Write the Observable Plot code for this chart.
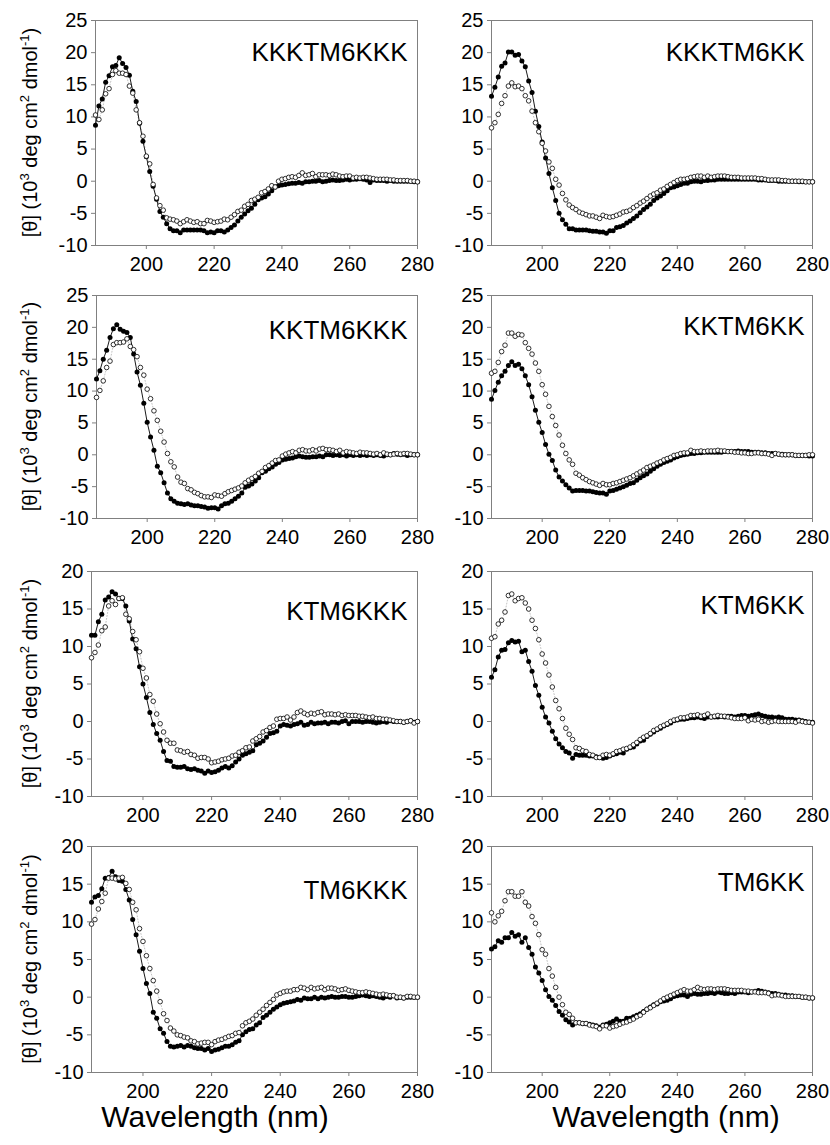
<!DOCTYPE html>
<html><head><meta charset="utf-8">
<script src="https://cdn.jsdelivr.net/npm/d3@7"></script>
<script src="https://cdn.jsdelivr.net/npm/@observablehq/plot@0.6"></script>
<style>
body{margin:0;background:#fff;}
#chart{position:relative;width:830px;height:1145px;background:#fff;overflow:hidden;font-family:"Liberation Sans",Arial,sans-serif;}
#chart svg{position:absolute;overflow:visible;}
</style></head><body><div id="chart"></div>
<script>
// ---------- data ----------
const wavelength = [185,186,187,188,189,190,191,192,193,194,195,196,197,198,199,200,201,202,203,204,205,206,207,208,209,210,211,212,213,214,215,216,217,218,219,220,221,222,223,224,225,226,227,228,229,230,231,232,233,234,235,236,237,238,239,240,241,242,243,244,245,246,247,248,249,250,251,252,253,254,255,256,257,258,259,260,261,262,263,264,265,266,267,268,269,270,271,272,273,274,275,276,277,278,279,280];

const panelNames = ["KKKTM6KKK","KKKTM6KK","KKTM6KKK","KKTM6KK","KTM6KKK","KTM6KK","TM6KKK","TM6KK"];
const xTicks = [200,220,240,260,280];
const yTicksTall = [-10,-5,0,5,10,15,20,25];
const yTicksShort = [-10,-5,0,5,10,15,20];
const xTitle = "Wavelength (nm)";

const kkktm6kkkFilled = [8.7,11.7,12.8,15.4,16.4,17.8,18.0,19.2,18.3,17.7, 16.5,14.0,12.4,9.0,6.2,3.8,1.5,-0.8,-2.8,-4.7, -5.6,-6.6,-7.4,-7.7,-7.7,-8.0,-7.6,-7.6,-7.6,-7.6, -7.6,-7.6,-7.7,-8.0,-7.9,-8.0,-7.7,-7.7,-7.9,-7.6, -7.2,-6.8,-6.2,-5.6,-5.1,-4.6,-4.2,-3.6,-2.9,-2.6, -2.4,-2.0,-1.5,-0.9,-0.7,-0.6,-0.5,-0.4,-0.3,-0.3, -0.2,-0.3,-0.1,-0.1,0.0,0.0,0.1,-0.1,0.0,0.1, 0.2,0.1,0.1,0.2,0.3,0.2,0.3,0.3,0.4,0.3, 0.2,-0.2,0.2,0.1,0.1,0.1,0.0,0.1,0.0,0.0, 0.0,0.0,0.0,0.0,-0.1,-0.1];
const kkktm6kkkOpen = [10.3,9.6,11.1,13.6,14.4,16.6,17.2,16.8,16.8,16.6, 14.8,13.7,11.1,9.1,7.0,3.9,2.7,-0.5,-2.6,-3.8, -4.5,-5.7,-5.9,-6.0,-6.2,-6.6,-6.3,-6.0,-6.2,-6.4, -6.3,-6.6,-6.6,-6.1,-6.2,-6.4,-6.3,-6.2,-5.9,-6.0, -5.6,-5.2,-4.7,-4.5,-3.9,-3.6,-3.0,-2.8,-2.5,-1.8, -1.6,-1.2,-0.7,-0.9,0.0,0.3,0.4,0.6,0.7,0.6, 0.9,1.3,0.9,1.0,1.2,0.7,1.0,1.0,1.0,0.9, 1.1,1.0,0.8,0.7,0.8,0.8,0.5,0.6,0.5,0.6, 0.6,0.5,0.4,0.3,0.3,0.3,0.3,0.2,0.2,0.1, 0.1,0.1,0.1,0.0,0.0,-0.1];

const kkktm6kkFilled = [13.2,14.6,16.2,17.9,18.4,20.1,20.1,19.6,19.7,18.7, 17.8,15.6,13.8,10.9,8.5,6.1,3.6,1.2,-1.0,-3.0, -5.0,-6.0,-6.7,-7.4,-7.4,-7.6,-7.6,-7.6,-7.6,-7.7, -7.8,-7.8,-7.9,-7.9,-8.1,-7.7,-7.7,-7.2,-7.1,-6.9, -6.5,-6.2,-5.8,-5.4,-4.9,-4.4,-4.0,-3.6,-3.0,-2.6, -2.3,-1.9,-1.5,-1.0,-0.9,-0.7,-0.5,-0.3,-0.3,-0.1, 0.0,0.0,-0.1,0.1,0.1,0.2,0.2,0.3,0.3,0.3, 0.3,0.3,0.3,0.3,0.3,0.3,0.3,0.3,0.3,0.2, 0.2,0.2,0.1,0.1,0.1,0.0,0.0,0.0,0.0,0.0, 0.0,-0.1,-0.1,-0.1,-0.1,-0.1];
const kkktm6kkOpen = [8.3,9.1,10.4,12.1,13.3,14.8,15.3,14.7,14.8,14.4, 13.3,12.5,10.9,9.1,7.7,5.9,4.7,3.0,2.0,0.3, -0.6,-1.9,-2.9,-3.7,-4.1,-4.4,-4.8,-5.0,-5.2,-5.4, -5.4,-5.6,-5.8,-5.3,-5.5,-5.6,-5.5,-5.3,-5.1,-4.8, -4.7,-4.5,-4.1,-3.8,-3.4,-3.1,-2.7,-2.3,-2.0,-1.8, -1.4,-1.2,-0.8,-0.5,-0.2,0.1,0.3,0.3,0.4,0.6, 0.7,0.8,0.8,0.6,0.8,0.6,0.7,0.8,0.8,0.8, 0.7,0.6,0.6,0.6,0.5,0.5,0.5,0.5,0.5,0.4, 0.4,0.3,0.2,0.2,0.2,0.2,0.1,0.1,0.0,0.0, 0.0,0.0,0.0,-0.1,-0.1,-0.1];

const kktm6kkkFilled = [11.9,13.2,15.0,16.4,18.4,19.8,20.4,19.7,19.4,19.2, 18.4,15.8,13.0,10.9,8.1,5.1,2.8,0.7,-1.8,-2.8, -4.4,-6.0,-6.9,-7.3,-7.6,-7.7,-7.8,-7.7,-7.9,-8.0, -8.0,-8.1,-8.2,-8.4,-8.3,-8.3,-8.5,-8.0,-7.7,-7.6, -7.3,-6.9,-6.5,-6.0,-5.1,-4.9,-4.6,-4.1,-3.6,-2.8, -2.6,-2.2,-1.9,-1.5,-1.2,-0.8,-0.7,-0.6,-0.5,-0.3, -0.2,-0.3,-0.4,-0.4,-0.3,-0.3,-0.2,-0.3,0.0,0.0, -0.1,0.0,-0.1,0.0,-0.2,0.0,-0.1,0.0,-0.1,0.0, -0.1,0.0,-0.1,0.0,-0.1,-0.2,0.0,0.0,0.2,0.1, 0.0,0.1,-0.1,0.0,0.0,0.0];
const kktm6kkkOpen = [9.0,10.1,11.6,13.7,14.7,17.3,17.6,17.6,17.7,18.2, 17.0,16.5,15.4,13.7,12.5,10.3,8.8,6.9,5.4,3.7, 2.0,0.2,-1.1,-1.9,-3.5,-4.3,-4.5,-5.3,-5.5,-5.9, -6.1,-6.4,-6.6,-6.6,-6.7,-6.3,-6.4,-6.5,-6.1,-5.8, -5.6,-5.4,-5.2,-4.9,-4.4,-4.0,-3.7,-3.4,-2.9,-2.6, -2.0,-1.7,-1.3,-0.9,-0.8,-0.2,0.1,0.3,0.5,0.3, 0.7,0.8,0.6,0.6,0.8,0.6,0.9,1.0,0.8,0.8, 0.7,0.5,0.7,0.3,0.5,0.4,0.3,0.2,0.4,0.3, 0.3,0.2,0.1,0.2,0.0,0.3,0.1,0.0,0.1,0.2, 0.1,0.2,0.2,0.1,0.0,0.0];

const kktm6kkFilled = [8.7,10.1,11.4,12.4,13.1,14.0,14.6,14.0,14.2,13.5, 12.4,11.0,9.1,7.0,5.1,3.5,1.6,0.1,-0.9,-2.4, -3.5,-4.1,-4.7,-5.2,-5.7,-5.6,-5.6,-5.6,-5.7,-5.7, -5.8,-5.9,-6.0,-6.0,-6.2,-5.7,-5.6,-5.4,-5.2,-5.0, -4.8,-4.5,-4.4,-4.0,-3.6,-3.3,-3.0,-2.6,-2.2,-1.8, -1.5,-1.2,-1.0,-0.8,-0.5,-0.3,-0.1,0.0,0.1,0.2, 0.2,0.3,0.3,0.4,0.4,0.4,0.4,0.4,0.4,0.5, 0.5,0.5,0.5,0.6,0.5,0.5,0.5,0.4,0.4,0.4, 0.3,0.3,0.2,0.2,0.2,0.1,0.1,0.0,0.0,0.0, -0.1,-0.1,-0.1,-0.1,-0.2,-0.2];
const kktm6kkOpen = [12.8,13.1,14.5,16.2,17.2,19.1,19.1,18.6,18.9,18.8, 17.6,16.7,15.8,14.4,13.1,11.0,9.5,7.6,6.0,4.6, 3.1,1.5,0.2,-0.8,-1.5,-2.9,-3.2,-3.6,-3.9,-4.2, -4.4,-4.6,-4.8,-4.5,-4.7,-4.7,-4.5,-4.4,-4.2,-4.0, -3.8,-3.6,-3.3,-3.0,-2.7,-2.4,-2.0,-1.8,-1.6,-1.3, -1.1,-0.8,-0.6,-0.4,-0.1,0.0,0.2,0.3,0.3,0.7, 0.5,0.5,0.6,0.5,0.6,0.6,0.6,0.7,0.6,0.6, 0.5,0.5,0.4,0.4,0.3,0.3,0.2,0.2,0.3,0.3, 0.2,0.2,0.1,-0.1,0.2,0.1,0.0,0.0,0.0,0.0, -0.1,-0.1,-0.1,-0.1,0.0,0.0];

const ktm6kkkFilled = [11.5,11.5,13.3,14.3,16.2,16.6,17.3,17.0,16.4,16.4, 15.4,13.4,11.0,9.7,7.3,5.0,3.2,1.2,-0.4,-1.6, -2.5,-4.0,-5.2,-5.3,-6.0,-6.1,-6.1,-6.0,-6.3,-6.4, -6.3,-6.5,-6.6,-6.9,-6.6,-6.8,-6.7,-6.5,-6.2,-6.0, -6.2,-5.9,-5.4,-5.0,-4.5,-4.3,-4.1,-3.9,-3.1,-2.9, -2.6,-2.1,-1.6,-1.5,-1.3,-0.6,-0.4,-0.5,-0.6,-0.4, -0.3,-0.1,-0.5,-0.4,-0.1,-0.3,-0.2,-0.2,-0.1,-0.3, -0.1,-0.1,-0.2,0.0,0.1,-0.3,0.0,0.0,0.0,-0.1, 0.0,0.0,-0.1,-0.2,-0.1,0.0,-0.1,0.1,0.0,0.0, 0.0,-0.1,0.0,0.1,-0.1,0.0];
const ktm6kkkOpen = [8.5,9.2,10.2,12.1,12.6,15.4,16.1,15.6,16.4,16.5, 14.3,13.7,12.0,10.9,9.3,7.1,5.8,3.6,2.7,1.0, -0.3,-1.4,-2.5,-2.9,-2.9,-3.8,-3.9,-4.1,-4.0,-4.4, -4.5,-4.9,-4.8,-4.8,-5.0,-5.5,-5.4,-5.3,-5.1,-5.0, -4.9,-4.6,-4.5,-4.1,-3.9,-3.5,-3.4,-2.6,-2.3,-2.0, -1.4,-1.2,-0.8,-0.6,0.3,0.4,0.4,0.6,0.2,0.6, 1.2,1.4,1.1,0.9,1.1,1.0,1.2,1.3,0.9,1.0, 1.0,0.9,1.0,0.8,0.9,0.8,0.8,0.8,0.7,0.7, 0.6,0.5,0.6,0.4,0.4,0.3,0.3,0.2,0.1,0.0, 0.0,-0.1,0.0,0.1,-0.2,0.0];

const ktm6kkFilled = [5.9,6.9,8.6,9.5,9.6,10.5,10.8,10.6,10.7,9.3, 9.5,8.0,6.7,4.8,3.5,1.9,0.6,-0.2,-1.3,-2.3, -3.0,-3.5,-4.0,-4.2,-4.9,-4.4,-4.5,-4.5,-4.5,-4.6, -4.6,-4.7,-4.8,-4.9,-4.8,-4.6,-4.4,-4.3,-4.1,-4.2, -3.7,-3.5,-3.4,-3.0,-2.6,-2.5,-2.0,-1.7,-1.4,-1.1, -0.9,-0.6,-0.4,-0.2,0.1,0.2,0.3,0.3,0.4,0.5, 0.5,0.6,0.5,0.4,0.6,0.6,0.6,0.6,0.7,0.6, 0.7,0.7,0.6,0.7,0.8,0.8,0.7,0.8,0.9,1.0, 0.8,0.7,0.6,0.6,0.5,0.6,0.5,0.3,0.3,0.3, 0.2,0.2,0.1,0.0,-0.1,-0.1];
const ktm6kkOpen = [11.1,11.3,13.0,13.5,14.6,16.8,17.0,16.1,16.4,16.5, 15.8,15.0,13.5,12.4,10.9,9.0,7.8,6.2,4.6,2.8, 1.7,0.4,-0.9,-1.7,-2.4,-3.5,-3.6,-3.9,-4.0,-4.4, -4.5,-4.8,-4.8,-4.5,-4.4,-4.5,-4.3,-4.0,-3.9,-3.7, -3.6,-3.4,-3.1,-2.8,-2.4,-2.1,-1.9,-1.6,-1.2,-1.0, -0.7,-0.5,-0.3,0.0,0.2,0.3,0.5,0.5,0.6,0.8, 0.8,0.9,0.7,0.8,1.0,0.6,0.7,0.8,0.7,0.7, 0.6,0.5,0.4,0.4,0.4,0.5,0.1,0.3,0.2,0.3, 0.0,0.1,-0.1,0.0,0.1,0.0,0.0,0.0,0.0,0.0, -0.1,0.1,0.0,-0.1,-0.1,-0.2];

const tm6kkkFilled = [12.6,13.3,13.5,14.4,15.8,15.9,16.7,16.0,15.5,15.4, 14.3,12.9,10.3,8.3,6.1,3.8,1.8,0.5,-2.0,-2.8, -4.2,-4.8,-5.9,-6.5,-6.6,-6.5,-6.4,-6.6,-6.4,-6.5, -6.7,-6.8,-6.8,-7.0,-6.8,-7.2,-7.0,-6.9,-6.7,-6.5, -6.5,-6.3,-6.0,-5.8,-5.0,-4.6,-4.3,-4.2,-3.7,-3.4, -2.7,-2.4,-2.0,-1.6,-1.3,-1.0,-0.8,-0.7,-0.6,-0.5, -0.3,-0.4,-0.1,-0.2,-0.2,0.0,-0.2,0.0,-0.1,0.0, 0.1,0.0,0.0,0.1,0.1,0.0,0.0,0.1,0.2,0.3, 0.2,0.1,0.2,0.1,0.0,-0.1,0.1,0.0,0.2,-0.1, 0.0,-0.1,0.0,0.0,0.0,0.0];
const tm6kkkOpen = [9.7,10.3,11.7,12.7,13.8,15.8,15.8,15.7,15.8,15.9, 15.1,14.3,12.6,11.6,9.1,7.4,5.5,3.8,2.2,0.8, -0.6,-2.2,-3.1,-4.1,-4.5,-5.0,-5.1,-5.3,-5.4,-5.8, -5.9,-6.2,-6.1,-6.0,-6.0,-6.3,-5.9,-5.7,-5.6,-5.4, -5.2,-5.1,-4.8,-4.7,-3.8,-3.4,-3.2,-2.9,-2.4,-2.0, -1.6,-1.1,-0.7,-0.3,0.3,0.5,0.7,0.8,0.8,1.0, 1.0,1.3,1.2,1.0,1.3,1.1,1.2,1.3,1.0,1.2, 1.2,1.1,0.9,1.0,1.1,0.9,0.8,0.7,0.6,0.6, 0.7,0.6,0.5,0.4,0.3,0.4,0.3,0.2,0.2,0.0, 0.0,-0.1,0.1,0.1,0.0,0.0];

const tm6kkFilled = [6.4,6.7,7.5,7.3,7.9,7.9,8.6,8.1,8.3,7.3, 7.9,6.6,5.7,4.0,3.2,2.2,1.0,0.1,-0.4,-1.1, -1.9,-2.4,-3.0,-3.3,-3.7,-3.4,-3.4,-3.5,-3.5,-3.6, -3.7,-3.8,-4.0,-3.7,-3.6,-3.4,-3.2,-2.9,-3.2,-3.2, -2.8,-2.8,-2.6,-2.4,-2.2,-1.9,-1.6,-1.3,-1.0,-0.9, -0.6,-0.5,-0.4,-0.2,0.1,0.2,0.3,0.3,0.1,0.4, 0.5,0.4,0.4,0.5,0.5,0.6,0.5,0.7,0.6,0.5, 0.5,0.6,0.5,0.7,0.7,0.7,0.6,0.7,0.8,0.9, 0.8,0.7,0.6,0.5,0.5,0.4,0.3,0.3,0.2,0.2, 0.1,0.1,0.0,0.0,-0.1,-0.1];
const tm6kkOpen = [11.2,10.0,10.8,11.4,12.8,14.0,14.0,13.4,13.4,14.0, 12.6,12.1,10.7,9.8,8.3,6.3,5.7,3.8,2.8,1.3, 0.0,-1.0,-2.0,-2.3,-2.8,-3.4,-3.4,-3.5,-3.5,-3.7, -3.8,-3.9,-4.2,-3.8,-3.8,-4.1,-3.9,-3.8,-3.6,-3.4, -3.3,-3.1,-2.9,-2.6,-2.4,-2.0,-1.6,-1.4,-1.1,-0.8, -0.5,-0.2,0.0,0.2,0.4,0.6,0.8,1.0,0.8,0.8, 1.0,1.3,1.1,1.0,1.1,1.1,1.0,1.1,1.1,1.1, 1.0,0.9,0.9,0.9,0.9,0.8,0.8,0.7,0.7,0.6, 0.6,0.6,0.5,0.2,0.3,0.3,0.2,0.1,0.1,0.1, 0.1,0.1,0.0,0.0,-0.1,-0.1];

const filledSeries = [kkktm6kkkFilled,kkktm6kkFilled,kktm6kkkFilled,kktm6kkFilled,ktm6kkkFilled,ktm6kkFilled,tm6kkkFilled,tm6kkFilled];
const openSeries = [kkktm6kkkOpen,kkktm6kkOpen,kktm6kkkOpen,kktm6kkOpen,ktm6kkkOpen,ktm6kkOpen,tm6kkkOpen,tm6kkOpen];
const rowYMax = [25,25,20,20];

// ---------- layout ----------
const FONT = '"Liberation Sans", Arial, Helvetica, sans-serif';
const frameTop = [20,295,571,846];
const frameBottom = [245,518,796,1072];
const leftFrameX = [95,96,91,91];
const rightFrameX = 491;
const titleBaseline = [40,40,43,39,48,42,52,44];
const chart = document.getElementById("chart");

function panel(i) {
  const row = Math.floor(i/2), col = i%2;
  const svgLeft = col === 0 ? 0 : 415;
  const width = col === 0 ? 430 : 415;
  const marginLeft = col === 0 ? leftFrameX[row] : rightFrameX - 415;
  const marginRight = col === 0 ? 430 - 417 : 415 - (812 - 415);
  const marginTop = 20;
  const marginBottom = row === 3 ? 1145 - frameBottom[row] : 40;
  const svgTop = frameTop[row] - marginTop;
  const height = frameBottom[row] - frameTop[row] + marginTop + marginBottom;
  const data = wavelength.map((w, k) => ({w, f: filledSeries[i][k], o: openSeries[i][k]}));
  const ymax = rowYMax[row];
  const yTicks = ymax === 25 ? yTicksTall : yTicksShort;
  const svg = Plot.plot({
    width, height, marginLeft, marginRight, marginTop, marginBottom,
    style: {background: "transparent", fontFamily: FONT, fontSize: "20px", color: "black", overflow: "visible"},
    x: {domain: [185, 280]},
    y: {domain: [-10, ymax]},
    marks: [
      Plot.frame({stroke: "#808080", strokeWidth: 1}),
      Plot.axisX({ticks: xTicks, tickSize: 4, tickPadding: 7, stroke: "#808080", fill: "black", fontSize: 20, label: null, tickFormat: d => String(d)}),
      Plot.axisY({ticks: yTicks, tickSize: 4, tickPadding: 4, stroke: "#808080", fill: "black", fontSize: 20, label: null, tickFormat: d => String(d)}),
      Plot.line(data, {x: "w", y: "o", stroke: "#9a9a9a", strokeWidth: 0.6, strokeDasharray: "1,2"}),
      Plot.line(data, {x: "w", y: "f", stroke: "black", strokeWidth: 0.9}),
      Plot.dot(data, {x: "w", y: "f", r: 2.5, fill: "black", stroke: "none"}),
      Plot.dot(data, {x: "w", y: "o", r: 2.3, fill: "white", stroke: "black", strokeWidth: 0.8}),
      Plot.text([panelNames[i]], {text: d => d, frameAnchor: "top-right", dx: col === 0 ? -10 : -8, dy: titleBaseline[i], lineAnchor: "bottom", textAnchor: "end", fontSize: 26, fill: "black"})
    ]
  });
  svg.style.left = svgLeft + "px";
  svg.style.top = svgTop + "px";
  const s = d3.select(svg);
  if (col === 0) {
    const cy = marginTop + (frameBottom[row] - frameTop[row]) / 2;
    const t = s.append("text")
      .attr("transform", `translate(37,${cy}) rotate(-90)`)
      .attr("text-anchor", "middle")
      .attr("font-family", FONT).attr("font-size", 20).attr("fill", "black");
    t.append("tspan").text("[θ] (10");
    t.append("tspan").attr("dy", -8).attr("font-size", 13).text("3");
    t.append("tspan").attr("dy", 8).text(" deg cm");
    t.append("tspan").attr("dy", -8).attr("font-size", 13).text("2");
    t.append("tspan").attr("dy", 8).text(" dmol");
    t.append("tspan").attr("dy", -8).attr("font-size", 13).text("-1");
    t.append("tspan").attr("dy", 8).text(")");
  }
  if (row === 3) {
    const cx = (col === 0 ? 215 : 666) - svgLeft;
    s.append("text")
      .attr("x", cx).attr("y", 1127 - svgTop)
      .attr("text-anchor", "middle")
      .attr("font-family", FONT).attr("font-size", 30).attr("fill", "black")
      .text(xTitle);
  }
  chart.appendChild(svg);
}
for (let i = 0; i < 8; i++) panel(i);
</script></body></html>
